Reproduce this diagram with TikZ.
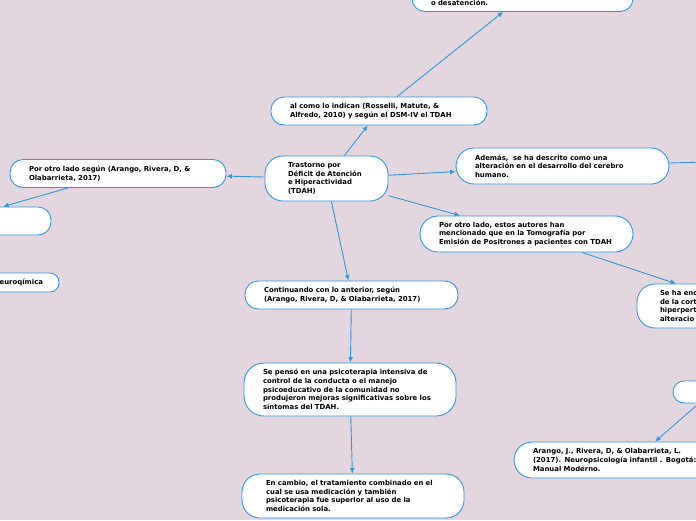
\documentclass[tikz,border=0pt]{standalone}
\usepackage{fontspec}
\usepackage{tikz}
\usetikzlibrary{arrows.meta}
\newfontfamily\mapsans{DejaVu Sans}
\definecolor{mapBack}{HTML}{E4D6DE}
\definecolor{mapBlue}{HTML}{3196DA}
\tikzset{
  topic/.style={draw=mapBlue, line width=0.9pt, fill=white, rounded corners=13pt,
    align=left, inner xsep=19pt, inner ysep=0pt,
    font=\mapsans\bfseries\fontsize{6.9}{8.7}\selectfont},
  tall topic/.style={topic, rounded corners=18pt},
  link/.style={-{Latex[length=5.5pt,width=5pt]}, line width=0.9pt, draw=mapBlue},
  plain link/.style={line width=0.9pt, draw=mapBlue}
}
\begin{document}
\begin{tikzpicture}[x=1pt,y=-1pt]
  \useasboundingbox (0,0) rectangle (696,520);
  \clip (0,0) rectangle (696,520);
  \fill[mapBack] (0,0) rectangle (696,520);
  % centre and branches
  \node[tall topic, text width=77pt, inner xsep=23pt, minimum height=45pt] (tdah) at (326.5,178.5)
    {Trastorno por\\Déficit de Atención\\e Hiperactividad\\(TDAH)};
  \node[topic, text width=178pt, minimum height=28pt] (alcomo) at (379,111)
    {al como lo indican (Rosselli, Matute, \&\\Alfredo, 2010) y según el DSM-IV el TDAH};
  \node[topic, text width=183pt, minimum height=30pt] (desat) at (522.5,-3.5)
    {\mbox{}\\\mbox{}\\o desatención.};
  \node[topic, text width=178pt, minimum height=28pt] (segun) at (118,173.5)
    {Por otro lado según (Arango, Rivera, D, \&\\Olabarrieta, 2017)};
  \node[topic, text width=158pt, minimum height=28pt] (leftcut) at (-47,221) {};
  \node[topic, align=right, text width=87pt, inner xsep=16pt, minimum height=19pt,
    rounded corners=9pt] (neuro) at (-0.5,282.5) {euroqímica};
  \node[tall topic, text width=175pt, minimum height=36pt] (ademas) at (562.5,166)
    {Además,\ \ se ha descrito como una\\alteración en el desarrollo del cerebro\\humano.};
  \coordinate (offright) at (705,162);
  \node[tall topic, text width=175pt, minimum height=36pt] (estos) at (526.5,234)
    {Por otro lado, estos autores han\\mencionado que en la Tomografía por\\Emisión de Positrones a pacientes con TDAH};
  \node[tall topic, text width=167pt, inner xsep=23pt, minimum height=44pt] (seha) at (743.5,306)
    {Se ha enc\\de la cort\\hiperpert\\alteracio};
  \node[topic, text width=175pt, minimum height=28pt] (continuando) at (351.5,295)
    {Continuando con lo anterior, según\\(Arango, Rivera, D, \& Olabarrieta, 2017)};
  \node[tall topic, rounded corners=20pt, text width=174pt, minimum height=53pt] (sepenso) at (350,389.5)
    {Se pensó en una psicoterapia intensiva de\\control de la conducta o el manejo\\psicoeducativo de la comunidad no\\produjeron mejoras significativas sobre los\\síntomas del TDAH.};
  \node[tall topic, text width=174pt, inner xsep=24pt, minimum height=44pt] (encambio) at (353,496)
    {En cambio, el tratamiento combinado en el\\cual se usa medicación y también\\psicoterapia fue superior al uso de la\\medicación sola.};
  \node[topic, text width=40pt, minimum height=22pt, rounded corners=11pt] (smallright) at (712,392) {};
  \node[tall topic, text width=202pt, minimum height=36pt] (arango) at (634,460)
    {Arango, J., Rivera, D, \& Olabarrieta, L.\\(2017). Neuropsicología infantil . Bogotá:\\Manual Moderno.};
  % connectors
  \draw[link] (tdah) -- (alcomo);
  \draw[link] (alcomo) -- (desat);
  \draw[link] (tdah) -- (segun);
  \draw[link] (segun) -- (leftcut);
  \draw[link] (tdah) -- (ademas);
  \draw[plain link] (ademas) -- (offright);
  \draw[link] (tdah) -- (estos);
  \draw[link] (estos) -- (seha);
  \draw[link] (tdah) -- (continuando);
  \draw[link] (continuando) -- (sepenso);
  \draw[link] (sepenso) -- (encambio);
  \draw[link] (smallright) -- (arango);
\end{tikzpicture}
\end{document}
